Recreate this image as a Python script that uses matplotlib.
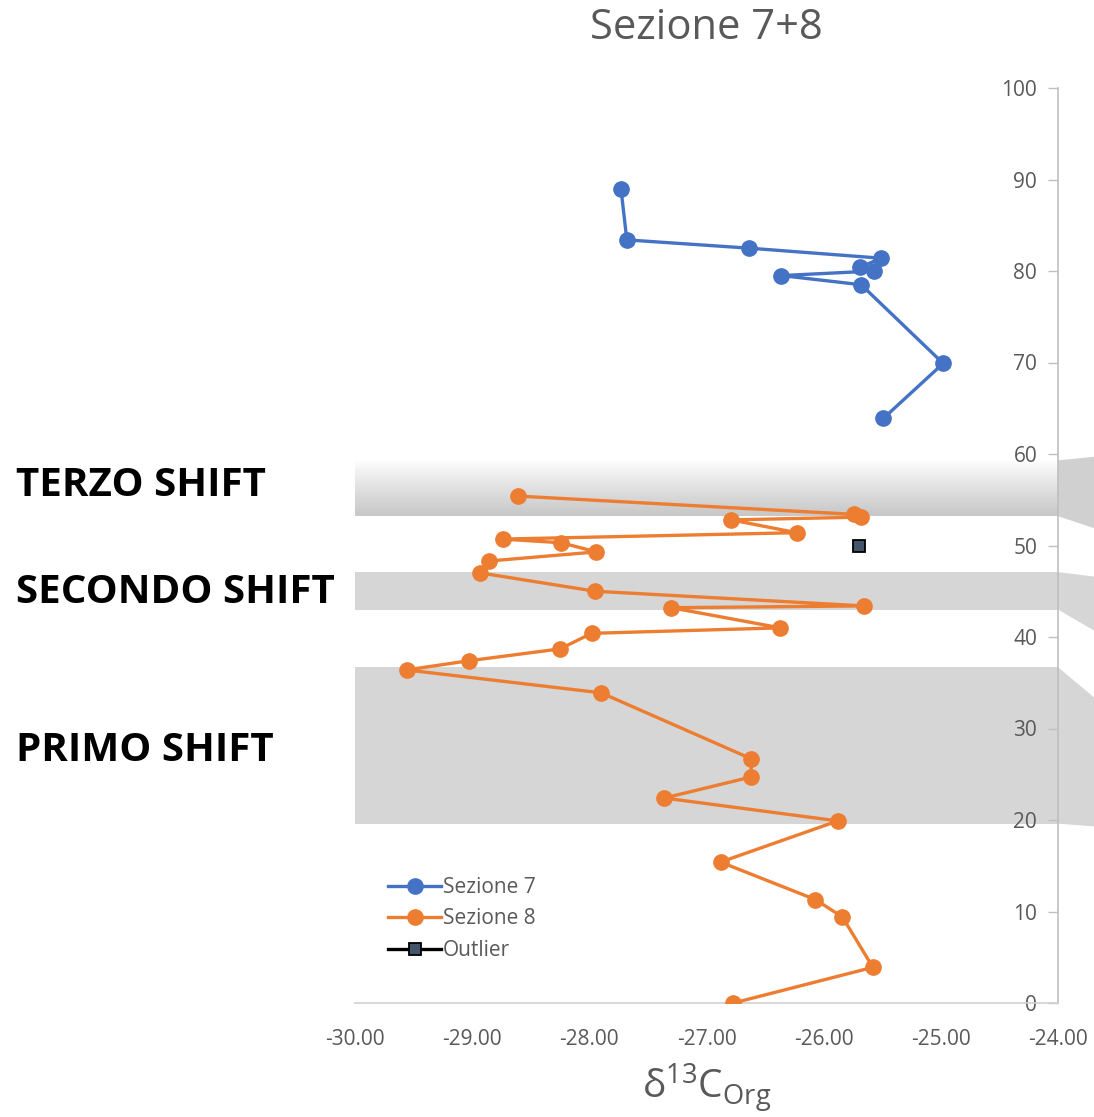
import matplotlib
matplotlib.use("Agg")
import matplotlib.pyplot as plt
import matplotlib.transforms as mtransforms
from matplotlib.patches import Polygon
import numpy as np

plt.rcParams['font.family'] = ['Open Sans', 'DejaVu Sans']

# ---- data ----
s7_x = [-27.73, -27.68, -26.64, -25.51, -25.69, -25.57, -26.36, -25.68, -24.98, -25.49]
s7_y = [89.0, 83.4, 82.5, 81.4, 80.4, 80.0, 79.5, 78.5, 69.9, 63.9]

s8_x = [-28.61, -25.74, -25.68, -26.79, -26.23, -28.74, -28.24, -27.94, -28.86, -28.93,
        -27.95, -25.66, -27.30, -26.37, -27.98, -28.25, -29.03, -29.56, -27.90, -26.62,
        -26.62, -27.36, -25.88, -26.88, -26.07, -25.84, -25.58, -26.77]
s8_y = [55.4, 53.4, 53.1, 52.8, 51.4, 50.7, 50.3, 49.3, 48.3, 47.0,
        45.0, 43.4, 43.2, 41.0, 40.4, 38.7, 37.4, 36.4, 33.9, 26.7,
        24.7, 22.4, 19.9, 15.4, 11.3, 9.4, 3.9, 0.0]

outlier_x = [-25.70]
outlier_y = [50.0]

# shift bands (depth ranges)
shift_names = ["TERZO SHIFT", "SECONDO SHIFT", "PRIMO SHIFT"]
shift_lo = [53.2, 43.0, 19.6]
shift_hi = [59.3, 47.1, 36.7]
shift_label_y = [56.6, 44.9, 27.6]

x_ticks = [-30, -29, -28, -27, -26, -25, -24]
y_ticks = [0, 10, 20, 30, 40, 50, 60, 70, 80, 90, 100]

# ---- figure ----
W, H = 1094, 1117
fig = plt.figure(figsize=(W / 100, H / 100), dpi=100)
ax = fig.add_axes([355 / W, 1 - 1003 / H, 703 / W, 915 / H])
ax.set_xlim(-30, -24)
ax.set_ylim(0, 100)

gray_txt = '#595959'
band_col = '#d6d6d6'

# bands
for i, (lo, hi) in enumerate(zip(shift_lo, shift_hi)):
    if i == 0:
        grad = np.linspace(0, 1, 256) ** 0.9
        rgb = 1.0 - grad * (1.0 - 0.78)
        img = np.dstack([rgb, rgb, rgb]).reshape(256, 1, 3)
        ax.imshow(img, extent=[-30, -24, lo, hi], origin='upper', aspect='auto', zorder=0.5)
    else:
        ax.axhspan(lo, hi, color=band_col, lw=0, zorder=0.5)

# side decorations to the right of the axis (blended: axes x, data y)
trans = mtransforms.blended_transform_factory(ax.transAxes, ax.transData)
dx = 36 / 703
side_polys = [
    [(1.0, shift_hi[0]), (1.0 + dx, shift_hi[0] + 0.4), (1.0 + dx, shift_lo[0] - 1.3), (1.0, shift_lo[0])],
    [(1.0, shift_hi[1]), (1.0 + dx, shift_hi[1] - 0.5), (1.0 + dx, shift_lo[1] - 2.3), (1.0, shift_lo[1])],
    [(1.0, shift_hi[2]), (1.0 + dx, shift_hi[2] - 3.3), (1.0 + dx, shift_lo[2] - 0.3), (1.0, shift_lo[2])],
]
for k, pts in enumerate(side_polys):
    fc = '#d0d0d0' if k == 0 else band_col
    p = Polygon(pts, closed=True, transform=trans, facecolor=fc, edgecolor='none',
                clip_on=False, zorder=0.5)
    ax.add_patch(p)

# series
ax.plot(s7_x, s7_y, '-o', color='#4472C4', lw=2.4, ms=11, label='Sezione 7', zorder=3)
ax.plot(s8_x, s8_y, '-o', color='#ED7D31', lw=2.4, ms=11, label='Sezione 8', zorder=3)
ax.plot(outlier_x, outlier_y, '-s', color='black', lw=2.4, ms=9, mfc='#44546A',
        mec='black', mew=1.3, label='Outlier', zorder=4)

# axes styling
for s in ['top', 'right']:
    ax.spines[s].set_visible(False)
ax.spines['left'].set_position(('data', -24))
ax.spines['left'].set_color('#bfbfbf')
ax.spines['left'].set_linewidth(1.2)
ax.spines['left'].set_zorder(2)
ax.spines['bottom'].set_color('#d0d0d0')
ax.spines['bottom'].set_linewidth(1.2)

ax.set_xticks(x_ticks)
ax.set_xticklabels([f"{v:.2f}" for v in x_ticks])
ax.set_yticks(y_ticks)
ax.set_yticklabels([str(v) for v in y_ticks])
ax.tick_params(axis='x', length=0, pad=19, labelsize=15, labelcolor=gray_txt)
ax.tick_params(axis='y', length=7, width=1, color='#bfbfbf', pad=8, labelsize=15,
               labelcolor=gray_txt)

ax.set_xlabel(r'$\mathregular{\delta^{13}C_{Org}}$', fontsize=28, color=gray_txt, labelpad=8)

ax.set_title('Sezione 7+8', fontsize=30, color=gray_txt, pad=35)

leg = ax.legend(loc='lower left', bbox_to_anchor=(0.035, 0.037), frameon=False,
                fontsize=15, labelcolor=gray_txt, handlelength=2.55, handletextpad=0.1,
                labelspacing=0.5, borderaxespad=0)

# shift labels
ltrans = mtransforms.blended_transform_factory(fig.transFigure, ax.transData)
for name, yy in zip(shift_names, shift_label_y):
    ax.text(16 / W, yy, name, transform=ltrans, ha='left', va='center',
            fontsize=29, fontweight='bold', color='black', clip_on=False)

fig.savefig('out.png', dpi=100)
